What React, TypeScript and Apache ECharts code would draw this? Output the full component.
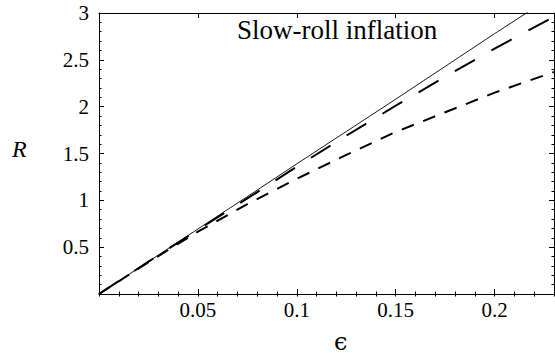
import React, { useEffect, useRef } from "react";
import * as echarts from "echarts";

const epsilonValues = [0, 0.025, 0.05, 0.075, 0.1, 0.125, 0.15, 0.175, 0.2, 0.23];
const solidR = [0, 0.347, 0.694, 1.04, 1.39, 1.735, 2.08, 2.43, 2.78, 3.19];
const longDashR = [0, 0.345, 0.685, 1.02, 1.36, 1.69, 2.01, 2.32, 2.62, 2.96];
const shortDashR = [0, 0.34, 0.665, 0.96, 1.23, 1.485, 1.73, 1.94, 2.15, 2.37];
const xTickLabels = ["0.05", "0.1", "0.15", "0.2"];
const yTickLabels = ["0.5", "1", "1.5", "2", "2.5", "3"];
const titleText = "Slow-roll inflation";
const yName = "R";
const xName = "\u03F5";

const FONT = "Liberation Serif";

export default function App() {
  const ref = useRef<HTMLDivElement>(null);
  useEffect(() => {
    if (!ref.current) return;
    const chart = echarts.init(ref.current, null, { renderer: "svg" });
    const pair = (ys: number[]) => epsilonValues.map((x, i) => [x, ys[i]]);
    const fmt = (list: string[]) => (v: number) => {
      const s = String(+Number(v).toFixed(3));
      return list.includes(s) ? s : "";
    };
    const black = { color: "#000", width: 1 };
    const xBase = {
      type: "value" as const,
      min: 0,
      max: 0.23,
      splitLine: { show: false },
    };
    const yBase = {
      type: "value" as const,
      min: 0,
      max: 3,
      interval: 0.5,
      splitLine: { show: false },
    };
    const labelText = {
      fontSize: 21,
      fontFamily: FONT,
      color: "#000",
    };
    chart.setOption({
      animation: false,
      backgroundColor: "#fff",
      grid: { left: 99, right: 1, top: 13, bottom: 64, containLabel: false },
      xAxis: [
        {
          ...xBase,
          position: "bottom",
          interval: 0.05,
          axisLine: { show: true, onZero: false, lineStyle: black },
          axisTick: { show: true, inside: true, length: 5, lineStyle: black },
          axisLabel: {
            show: true,
            formatter: fmt(xTickLabels),
            ...labelText,
            margin: 5,
            showMaxLabel: false,
          },
        },
        {
          ...xBase,
          position: "bottom",
          interval: 0.01,
          axisLine: { show: false },
          axisTick: { show: true, inside: true, length: 2.5, lineStyle: black },
          axisLabel: { show: false },
        },
        {
          ...xBase,
          position: "top",
          interval: 0.05,
          axisLine: { show: true, onZero: false, lineStyle: black },
          axisTick: { show: true, inside: true, length: 5, lineStyle: black },
          axisLabel: { show: false },
        },
        {
          ...xBase,
          position: "top",
          interval: 0.01,
          axisLine: { show: false },
          axisTick: { show: true, inside: true, length: 2.5, lineStyle: black },
          axisLabel: { show: false },
        },
      ],
      yAxis: [
        {
          ...yBase,
          position: "left",
          axisLine: { show: true, onZero: false, lineStyle: black },
          axisTick: { show: true, inside: true, length: 5, lineStyle: black },
          minorTick: { show: true, splitNumber: 5, length: 2.5, lineStyle: black },
          axisLabel: {
            show: true,
            formatter: fmt(yTickLabels),
            ...labelText,
            margin: 10,
          },
        },
        {
          ...yBase,
          position: "right",
          axisLine: { show: true, onZero: false, lineStyle: black },
          axisTick: { show: true, inside: true, length: 5, lineStyle: black },
          minorTick: { show: true, splitNumber: 5, length: 2.5, lineStyle: black },
          axisLabel: { show: false },
        },
      ],
      series: [
        {
          type: "line",
          xAxisIndex: 0,
          yAxisIndex: 0,
          data: pair(solidR),
          showSymbol: false,
          symbol: "none",
          clip: true,
          lineStyle: { color: "#000", width: 0.9, type: "solid" },
        },
        {
          type: "line",
          xAxisIndex: 0,
          yAxisIndex: 0,
          data: pair(longDashR),
          showSymbol: false,
          symbol: "none",
          clip: true,
          lineStyle: { color: "#000", width: 2, type: [23, 19], cap: "butt" },
        },
        {
          type: "line",
          xAxisIndex: 0,
          yAxisIndex: 0,
          data: pair(shortDashR),
          showSymbol: false,
          symbol: "none",
          clip: true,
          lineStyle: { color: "#000", width: 2, type: [13, 10], cap: "butt" },
        },
      ],
      graphic: [
        {
          type: "text",
          x: 237,
          y: 16,
          style: {
            text: titleText,
            fontSize: 27,
            fontFamily: FONT,
            fill: "#000",
          },
        },
        {
          type: "text",
          x: 12,
          y: 137,
          style: {
            text: yName,
            fontSize: 24,
            fontStyle: "italic",
            fontFamily: FONT,
            fill: "#000",
          },
        },
        {
          type: "text",
          x: 334,
          y: 330,
          style: {
            text: xName,
            fontSize: 24,
            fontFamily: "DejaVu Serif",
            fill: "#000",
          },
        },
      ],
    });
    return () => chart.dispose();
  }, []);
  return (
    <div
      ref={ref}
      style={{ position: "absolute", left: 0, top: 0, width: 555, height: 358 }}
    />
  );
}
